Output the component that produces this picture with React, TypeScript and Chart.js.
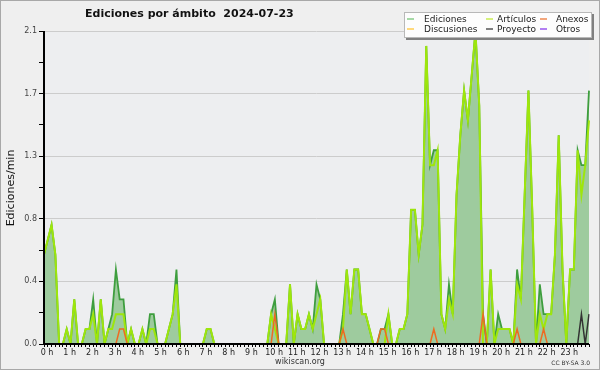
import React, { useEffect, useRef } from 'react';
import { Chart, registerables } from 'chart.js';

Chart.register(...registerables);

// ---- data (edits per minute, 10-minute slots, 0:00 .. 24:00) ----
const hourLabels = [
  '0 h', '1 h', '2 h', '3 h', '4 h', '5 h', '6 h', '7 h', '8 h', '9 h', '10 h', '11 h',
  '12 h', '13 h', '14 h', '15 h', '16 h', '17 h', '18 h', '19 h', '20 h', '21 h', '22 h', '23 h',
];

const ediciones = [
  0.6, 0.7, 0.8, 0.6, 0, 0, 0.1, 0, 0.3, 0, 0, 0.1,
  0.1, 0.3, 0, 0.3, 0, 0.1, 0.2, 0.5, 0.3, 0.3, 0, 0.1,
  0, 0, 0.1, 0, 0.2, 0.2, 0, 0, 0, 0.1, 0.2, 0.5,
  0, 0, 0, 0, 0, 0, 0, 0.1, 0.1, 0, 0, 0,
  0, 0, 0, 0, 0, 0, 0, 0, 0, 0, 0, 0,
  0.2, 0.3, 0, 0, 0, 0.4, 0, 0.2, 0.1, 0.1, 0.2, 0.1,
  0.4, 0.3, 0, 0, 0, 0, 0, 0.2, 0.5, 0.2, 0.5, 0.5,
  0.2, 0.2, 0.1, 0, 0, 0.1, 0.1, 0.2, 0, 0, 0.1, 0.1,
  0.2, 0.9, 0.9, 0.6, 0.8, 2.0, 1.2, 1.3, 1.3, 0.2, 0.1, 0.4,
  0.2, 1.0, 1.4, 1.7, 1.5, 1.8, 2.1, 1.6, 0.2, 0, 0.5, 0,
  0.2, 0.1, 0.1, 0.1, 0, 0.5, 0.3, 1.0, 1.7, 0.9, 0, 0.4,
  0.2, 0.2, 0.2, 0.6, 1.4, 0.5, 0, 0.5, 0.5, 1.3, 1.2, 1.2,
  1.7,
];

const articulos = [
  0.6, 0.7, 0.8, 0.6, 0, 0, 0.1, 0, 0.3, 0, 0, 0.1,
  0.1, 0.2, 0, 0.3, 0, 0.1, 0.1, 0.2, 0.2, 0.2, 0, 0.1,
  0, 0, 0.1, 0, 0.1, 0.1, 0, 0, 0, 0.1, 0.2, 0.4,
  0, 0, 0, 0, 0, 0, 0, 0.1, 0.1, 0, 0, 0,
  0, 0, 0, 0, 0, 0, 0, 0, 0, 0, 0, 0,
  0.2, 0.1, 0, 0, 0, 0.4, 0, 0.2, 0.1, 0.1, 0.2, 0.1,
  0.2, 0.3, 0, 0, 0, 0, 0, 0.1, 0.5, 0.2, 0.5, 0.5,
  0.2, 0.2, 0.1, 0, 0, 0, 0, 0.2, 0, 0, 0.1, 0.1,
  0.2, 0.9, 0.9, 0.6, 0.8, 2.0, 1.2, 1.2, 1.3, 0.2, 0.1, 0.3,
  0.2, 1.0, 1.4, 1.7, 1.5, 1.8, 2.1, 1.6, 0, 0, 0.5, 0,
  0.1, 0.1, 0.1, 0.1, 0, 0.4, 0.3, 1.0, 1.7, 0.9, 0, 0.2,
  0.1, 0.2, 0.2, 0.6, 1.4, 0.5, 0, 0.5, 0.5, 1.3, 1.0, 1.2,
  1.5,
];

const anexos = [
  0, 0, 0, 0, 0, 0, 0, 0, 0, 0, 0, 0,
  0, 0, 0, 0, 0, 0, 0, 0, 0.1, 0.1, 0, 0,
  0, 0, 0, 0, 0, 0, 0, 0, 0, 0, 0, 0,
  0, 0, 0, 0, 0, 0, 0, 0, 0, 0, 0, 0,
  0, 0, 0, 0, 0, 0, 0, 0, 0, 0, 0, 0,
  0, 0.2, 0, 0, 0, 0, 0, 0, 0, 0, 0, 0,
  0, 0, 0, 0, 0, 0, 0, 0.1, 0, 0, 0, 0,
  0, 0, 0, 0, 0, 0.1, 0.1, 0, 0, 0, 0, 0,
  0, 0, 0, 0, 0, 0, 0, 0.1, 0, 0, 0, 0,
  0, 0, 0, 0, 0, 0, 0, 0, 0.2, 0, 0, 0,
  0, 0, 0, 0, 0, 0.1, 0, 0, 0, 0, 0, 0,
  0.1, 0, 0, 0, 0, 0, 0, 0, 0, 0, 0, 0,
  0,
];

const discusiones = [
  0, 0, 0, 0, 0, 0, 0, 0, 0, 0, 0, 0,
  0, 0, 0, 0, 0, 0, 0, 0, 0, 0, 0, 0,
  0, 0, 0, 0, 0, 0, 0, 0, 0, 0, 0, 0,
  0, 0, 0, 0, 0, 0, 0, 0, 0, 0, 0, 0,
  0, 0, 0, 0, 0, 0, 0, 0, 0, 0, 0, 0,
  0, 0, 0, 0, 0, 0, 0, 0, 0, 0, 0, 0,
  0, 0, 0, 0, 0, 0, 0, 0, 0, 0, 0, 0,
  0, 0, 0, 0, 0, 0, 0, 0, 0, 0, 0, 0,
  0, 0, 0, 0, 0, 0, 0, 0, 0, 0, 0, 0,
  0, 0, 0, 0, 0, 0, 0, 0, 0, 0, 0, 0,
  0, 0, 0, 0, 0, 0, 0, 0, 0, 0, 0, 0,
  0, 0, 0, 0, 0, 0, 0, 0, 0, 0, 0, 0,
  0,
];

const proyecto = [
  0, 0, 0, 0, 0, 0, 0, 0, 0, 0, 0, 0,
  0, 0, 0, 0, 0, 0, 0, 0, 0, 0, 0, 0,
  0, 0, 0, 0, 0, 0, 0, 0, 0, 0, 0, 0,
  0, 0, 0, 0, 0, 0, 0, 0, 0, 0, 0, 0,
  0, 0, 0, 0, 0, 0, 0, 0, 0, 0, 0, 0,
  0, 0, 0, 0, 0, 0, 0, 0, 0, 0, 0, 0,
  0, 0, 0, 0, 0, 0, 0, 0, 0, 0, 0, 0,
  0, 0, 0, 0, 0, 0, 0, 0, 0, 0, 0, 0,
  0, 0, 0, 0, 0, 0, 0, 0, 0, 0, 0, 0,
  0, 0, 0, 0, 0, 0, 0, 0, 0, 0, 0, 0,
  0, 0, 0, 0, 0, 0, 0, 0, 0, 0, 0, 0,
  0, 0, 0, 0, 0, 0, 0, 0, 0, 0, 0.2, 0,
  0.2,
];

const otros = [
  0, 0, 0, 0, 0, 0, 0, 0, 0, 0, 0, 0,
  0, 0, 0, 0, 0, 0, 0, 0, 0, 0, 0, 0,
  0, 0, 0, 0, 0, 0, 0, 0, 0, 0, 0, 0,
  0, 0, 0, 0, 0, 0, 0, 0, 0, 0, 0, 0,
  0, 0, 0, 0, 0, 0, 0, 0, 0, 0, 0, 0,
  0, 0, 0, 0, 0, 0, 0, 0, 0, 0, 0, 0,
  0, 0, 0, 0, 0, 0, 0, 0, 0, 0, 0, 0,
  0, 0, 0, 0, 0, 0, 0, 0, 0, 0, 0, 0,
  0, 0, 0, 0, 0, 0, 0, 0, 0, 0, 0, 0,
  0, 0, 0, 0, 0, 0, 0, 0, 0, 0, 0, 0,
  0, 0, 0, 0, 0, 0, 0, 0, 0, 0, 0, 0,
  0, 0, 0, 0, 0, 0, 0, 0, 0, 0, 0, 0,
  0,
];

const slotLabels = ediciones.map((_, i) =>
  `${String(Math.floor(i / 6)).padStart(2, '0')}:${String((i % 6) * 10).padStart(2, '0')}`
);

const yMax = 2.1;
const yStep = 0.21;

const titleText = 'Ediciones por ámbito  2024-07-23';
const yTitle = 'Ediciones/min';
const legendNames = ['Ediciones', 'Artículos', 'Anexos', 'Discusiones', 'Proyecto', 'Otros'];
const legendColors = ['#88cc88', '#c8ec50', '#ee8850', '#ffcc50', '#555555', '#9955ee'];

const FONT = "'DejaVu Sans', sans-serif";

const decor = {
  id: 'decor',
  beforeDraw(chart: any) {
    const { ctx, chartArea: a, width, height } = chart;
    ctx.save();
    ctx.fillStyle = '#efefef';
    ctx.fillRect(0, 0, width, height);
    ctx.fillStyle = '#edeef0';
    ctx.fillRect(a.left, a.top, a.right - a.left, a.bottom - a.top);
    ctx.restore();
  },
  afterDatasetsDraw(chart: any) {
    const { ctx, chartArea: a } = chart;
    ctx.save();
    ctx.strokeStyle = '#000';
    ctx.lineWidth = 2;
    ctx.beginPath();
    ctx.moveTo(a.left, a.top);
    ctx.lineTo(a.left, a.bottom);
    ctx.lineTo(a.right, a.bottom);
    ctx.stroke();
    ctx.restore();
  },
  afterDraw(chart: any) {
    const { ctx, width, height } = chart;
    ctx.save();
    // title
    ctx.fillStyle = '#111';
    ctx.font = `bold 11px ${FONT}`;
    ctx.textAlign = 'left';
    ctx.textBaseline = 'alphabetic';
    ctx.fillText(titleText, 85, 16.5);
    // y title
    ctx.save();
    ctx.translate(14, 188);
    ctx.rotate(-Math.PI / 2);
    ctx.font = `11px ${FONT}`;
    ctx.textAlign = 'center';
    ctx.fillStyle = '#111';
    ctx.fillText(yTitle, 0, 0);
    ctx.restore();
    // footers
    ctx.font = `8px ${FONT}`;
    ctx.fillStyle = '#333';
    ctx.textAlign = 'center';
    ctx.fillText('wikiscan.org', 300, 364);
    ctx.font = `6px ${FONT}`;
    ctx.textAlign = 'right';
    ctx.fillText('CC BY-SA 3.0', 590, 365);
    // legend
    ctx.fillStyle = '#808080';
    ctx.fillRect(406, 14, 188, 26);
    ctx.fillStyle = '#fdfdfd';
    ctx.fillRect(404, 12, 188, 26);
    ctx.strokeStyle = '#b8b8b8';
    ctx.lineWidth = 1;
    ctx.strokeRect(404.5, 12.5, 187, 25);
    const colLine = [407, 486, 540];
    const colText = [424, 497, 556];
    const rowLine = [19, 29];
    const rowText = [22, 32];
    ctx.font = `9px ${FONT}`;
    ctx.textAlign = 'left';
    legendNames.forEach((name, k) => {
      const c = k % 3;
      const r = Math.floor(k / 3);
      ctx.strokeStyle = legendColors[k];
      ctx.lineWidth = 1.5;
      ctx.beginPath();
      ctx.moveTo(colLine[c], rowLine[r]);
      ctx.lineTo(colLine[c] + 7, rowLine[r]);
      ctx.stroke();
      ctx.fillStyle = '#222';
      ctx.fillText(name, colText[c], rowText[r]);
    });
    // frame
    ctx.strokeStyle = '#a8a8a8';
    ctx.lineWidth = 1;
    ctx.strokeRect(0.5, 0.5, width - 1, height - 1);
    ctx.restore();
  },
};

export default function App() {
  const ref = useRef<HTMLCanvasElement>(null);
  useEffect(() => {
    if (!ref.current) return;
    Chart.defaults.font.family = FONT;
    const line = (label: string, data: number[], color: string, order: number, extra: any = {}) => ({
      label,
      data,
      borderColor: color,
      borderWidth: 1.5,
      pointRadius: 0,
      tension: 0,
      fill: false,
      order,
      ...extra,
    });
    const chart = new Chart(ref.current, {
      type: 'line',
      data: {
        labels: slotLabels,
        datasets: [
          line('Anexos', anexos, '#ee6a22', 1),
          line('Proyecto', proyecto, '#333333', 2),
          line('Artículos', articulos, '#9ee60c', 3, { borderWidth: 2 }),
          line('Discusiones', discusiones, '#ffcc33', 4),
          line('Otros', otros, '#9933ee', 4),
          line('Ediciones', ediciones, '#3e9e3e', 5, {
            fill: 'origin',
            backgroundColor: 'rgb(158, 203, 158)',
            borderWidth: 1.8,
          }),
        ],
      },
      options: {
        animation: false,
        responsive: false,
        layout: { padding: { top: 31, right: 11, left: 0, bottom: 0 } },
        plugins: {
          legend: { display: false },
          title: { display: false },
          tooltip: { enabled: false },
        },
        scales: {
          x: {
            type: 'category',
            offset: false,
            afterFit: (s: any) => { s.height = 26; },
            border: { display: false },
            grid: {
              display: true,
              drawOnChartArea: false,
              drawTicks: true,
              tickLength: 3,
              tickColor: '#000',
              tickWidth: 1,
            },
            ticks: {
              autoSkip: false,
              maxRotation: 0,
              minRotation: 0,
              padding: 1,
              labelOffset: 3,
              color: '#222',
              font: { size: 8, family: FONT },
              callback: (_v: any, i: number) => (i % 6 === 0 && i / 6 < hourLabels.length ? hourLabels[i / 6] : ''),
            },
          },
          y: {
            min: 0,
            max: yMax,
            afterFit: (s: any) => { s.width = 44; },
            border: { display: false },
            grid: {
              color: (c: any) => (c.index % 2 === 0 && c.index > 0 ? '#cccccc' : 'rgba(0,0,0,0)'),
              lineWidth: 1,
              tickColor: '#000',
              tickLength: 5,
              drawTicks: true,
            },
            ticks: {
              stepSize: yStep,
              padding: 2,
              color: '#444',
              font: { size: 8, family: FONT },
              callback: (v: any, i: number) => (i % 2 === 0 ? Number(v).toFixed(1) : ''),
            },
          },
        },
      },
      plugins: [decor],
    } as any);
    return () => chart.destroy();
  }, []);
  return (
    <div style={{ position: 'fixed', left: 0, top: 0, width: 600, height: 370 }}>
      <canvas ref={ref} width={600} height={370} style={{ display: 'block' }} />
    </div>
  );
}
